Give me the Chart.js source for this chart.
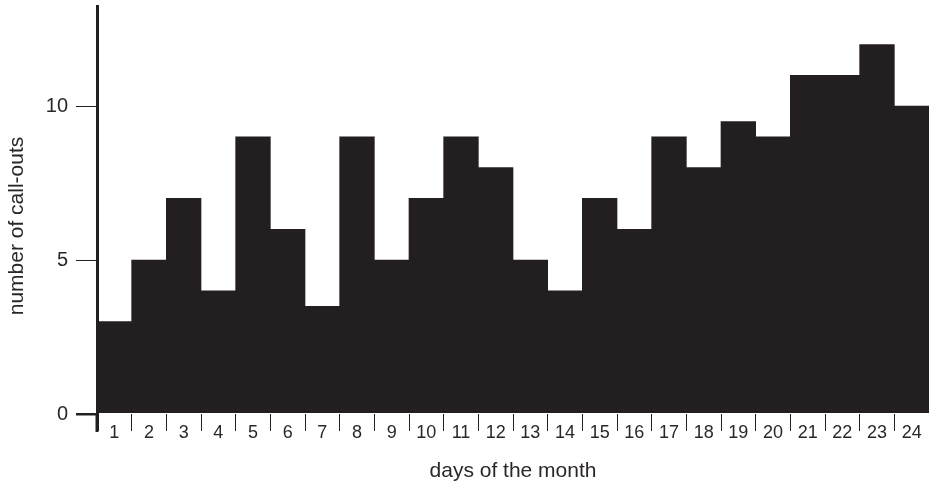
<!DOCTYPE html>
<html>
<head>
<meta charset="utf-8">
<script src="https://cdn.jsdelivr.net/npm/chart.js@4/dist/chart.umd.min.js"></script>
<style>
  html, body { margin: 0; padding: 0; background: #ffffff; }
  #wrap { width: 929px; height: 488px; }
</style>
</head>
<body>
<div id="wrap"><canvas id="chart" width="929" height="488"></canvas></div>
<script>
// Call-outs per day, days 1-24
const days = ['1','2','3','4','5','6','7','8','9','10','11','12','13','14','15','16','17','18','19','20','21','22','23','24'];
const callOuts = [3, 5, 7, 4, 9, 6, 3.5, 9, 5, 7, 9, 8, 5, 4, 7, 6, 9, 8, 9.5, 9, 11, 11, 12, 10];
const yTicks = [0, 5, 10];
const xTitle = 'days of the month';
const yTitle = 'number of call-outs';

const ink = '#231f20';
const textInk = '#2b2728';
const face = '"Liberation Sans", Arial, sans-serif';

new Chart(document.getElementById('chart'), {
  type: 'bar',
  data: {
    labels: days,
    datasets: [{
      data: callOuts,
      backgroundColor: ink,
      borderWidth: 0,
      categoryPercentage: 1.0,
      barPercentage: 1.0
    }]
  },
  options: {
    responsive: false,
    animation: false,
    layout: { padding: { top: 6, right: 0, bottom: 0, left: 0 } },
    plugins: {
      legend: { display: false },
      tooltip: { enabled: false }
    },
    scales: {
      x: {
        type: 'category',
        offset: true,
        grid: {
          offset: true,
          drawOnChartArea: false,
          drawTicks: true,
          tickLength: 17,
          color: ink,
          lineWidth: (ctx) => (ctx.index === 0 ? 3 : 1)
        },
        border: { display: false },
        ticks: {
          color: textInk,
          font: { family: face, size: 18 },
          padding: -9,
          maxRotation: 0,
          autoSkip: false
        },
        title: {
          display: true,
          text: xTitle,
          color: textInk,
          font: { family: face, size: 21 },
          padding: { top: 0, bottom: 4 }
        },
        afterFit: (scale) => {
          scale.height = 74;
          scale.paddingLeft = 0;
          scale.paddingRight = 0;
        }
      },
      y: {
        min: 0,
        max: 13.25,
        afterBuildTicks: (scale) => { scale.ticks = yTicks.map(v => ({ value: v })); },
        grid: {
          drawOnChartArea: false,
          drawTicks: true,
          tickLength: 21,
          color: ink,
          lineWidth: (ctx) => (ctx.tick && ctx.tick.value === 0 ? 2.5 : 1)
        },
        border: { display: true, color: ink, width: 3 },
        ticks: {
          color: textInk,
          font: { family: face, size: 20 },
          padding: 8
        },
        title: { display: false },
        afterFit: (scale) => {
          scale.width = 97;
          scale.paddingTop = 0;
          scale.paddingBottom = 0;
        }
      }
    }
  },
  plugins: [{
    // y axis foot below the baseline, plus the vertical axis title
    id: 'axisExtras',
    afterDraw(chart) {
      const { ctx, chartArea } = chart;
      ctx.save();
      ctx.strokeStyle = ink;
      ctx.lineWidth = 3;
      ctx.beginPath();
      ctx.moveTo(chartArea.left, chartArea.bottom);
      ctx.lineTo(chartArea.left, chartArea.bottom + 18);
      ctx.stroke();

      ctx.translate(17, 226);
      ctx.rotate(-Math.PI / 2);
      ctx.fillStyle = textInk;
      ctx.font = '21px ' + face;
      ctx.textAlign = 'center';
      ctx.textBaseline = 'middle';
      ctx.fillText(yTitle, 0, 0);
      ctx.restore();
    }
  }]
});
</script>
</body>
</html>
